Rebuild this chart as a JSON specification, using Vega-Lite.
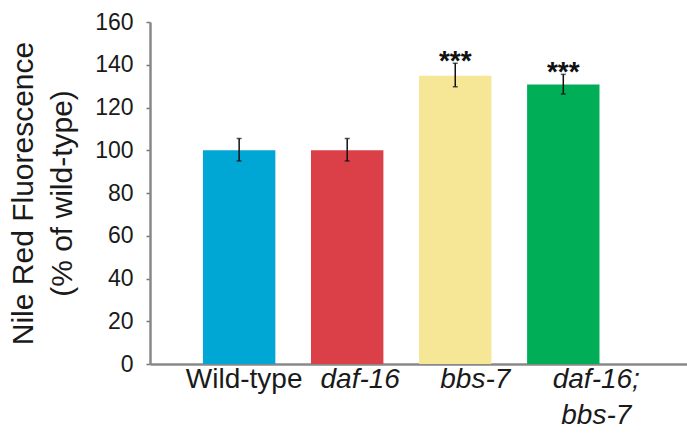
{
  "$schema": "https://vega.github.io/schema/vega-lite/v6.json",
  "width": 537,
  "height": 342,
  "autosize": {"type": "none"},
  "padding": {"left": 150, "top": 22, "right": 0, "bottom": 73},
  "background": "white",
  "config": {"view": {"stroke": null}, "font": "Liberation Sans"},
  "data": {
    "values": [
      {"strain": "Wild-type", "value": 100, "lower": 95, "upper": 105.5, "sig": ""},
      {"strain": "daf-16", "value": 100, "lower": 95, "upper": 105.5, "sig": ""},
      {"strain": "bbs-7", "value": 134.8, "lower": 129.7, "upper": 140.7, "sig": "***"},
      {"strain": "daf-16; bbs-7", "value": 130.8, "lower": 126.3, "upper": 135.5, "sig": "***"}
    ]
  },
  "encoding": {
    "x": {
      "field": "strain",
      "type": "nominal",
      "sort": null,
      "scale": {"paddingInner": 0.33, "paddingOuter": 0.65, "align": 0.377},
      "axis": {
        "title": null,
        "labelAngle": 0,
        "labelFontSize": 28,
        "labelColor": "#1a1a1a",
        "labelPadding": 1,
        "labelLineHeight": 36,
        "labelExpr": "datum.value === 'daf-16; bbs-7' ? ['daf-16;', 'bbs-7'] : datum.value",
        "labelFontStyle": {"condition": {"test": "datum.value === 'Wild-type'", "value": "normal"}, "value": "italic"},
        "labelOffset": {"condition": [
          {"test": "datum.value === 'Wild-type'", "value": 5},
          {"test": "datum.value === 'daf-16'", "value": 13},
          {"test": "datum.value === 'bbs-7'", "value": 20}
        ], "value": 33},
        "ticks": false,
        "domainColor": "#888888",
        "domainWidth": 2.5
      }
    }
  },
  "layer": [
    {
      "mark": {"type": "bar"},
      "encoding": {
        "y": {
          "field": "value",
          "type": "quantitative",
          "scale": {"domain": [0, 160], "nice": false},
          "axis": {
            "title": ["Nile Red Fluorescence", "(% of wild-type)"],
            "titleFontSize": 30,
            "titleFontWeight": "normal",
            "titleColor": "#1a1a1a",
            "titleLineHeight": 39,
            "titlePadding": 17,
            "values": [0, 20, 40, 60, 80, 100, 120, 140, 160],
            "grid": false,
            "labelFontSize": 23,
            "labelColor": "#1a1a1a",
            "labelPadding": 13,
            "tickSize": 4,
            "tickColor": "#777777",
            "tickWidth": 1.5,
            "domainColor": "#888888",
            "domainWidth": 2.5
          }
        },
        "color": {
          "field": "strain",
          "type": "nominal",
          "sort": null,
          "scale": {
            "domain": ["Wild-type", "daf-16", "bbs-7", "daf-16; bbs-7"],
            "range": ["#00A7D5", "#DB3F48", "#F6E796", "#00AE58"]
          },
          "legend": null
        }
      }
    },
    {
      "mark": {"type": "rule", "color": "#111111", "strokeWidth": 1.5},
      "encoding": {
        "y": {"field": "lower", "type": "quantitative"},
        "y2": {"field": "upper"}
      }
    },
    {
      "mark": {"type": "tick", "color": "#111111", "size": 5, "thickness": 1.5},
      "encoding": {"y": {"field": "upper", "type": "quantitative"}}
    },
    {
      "mark": {"type": "tick", "color": "#111111", "size": 5, "thickness": 1.5},
      "encoding": {"y": {"field": "lower", "type": "quantitative"}}
    },
    {
      "mark": {"type": "text", "fontSize": 28, "fontWeight": "bold", "baseline": "middle", "dy": -1, "color": "#111111"},
      "encoding": {
        "y": {"field": "upper", "type": "quantitative"},
        "text": {"field": "sig"}
      }
    }
  ]
}
